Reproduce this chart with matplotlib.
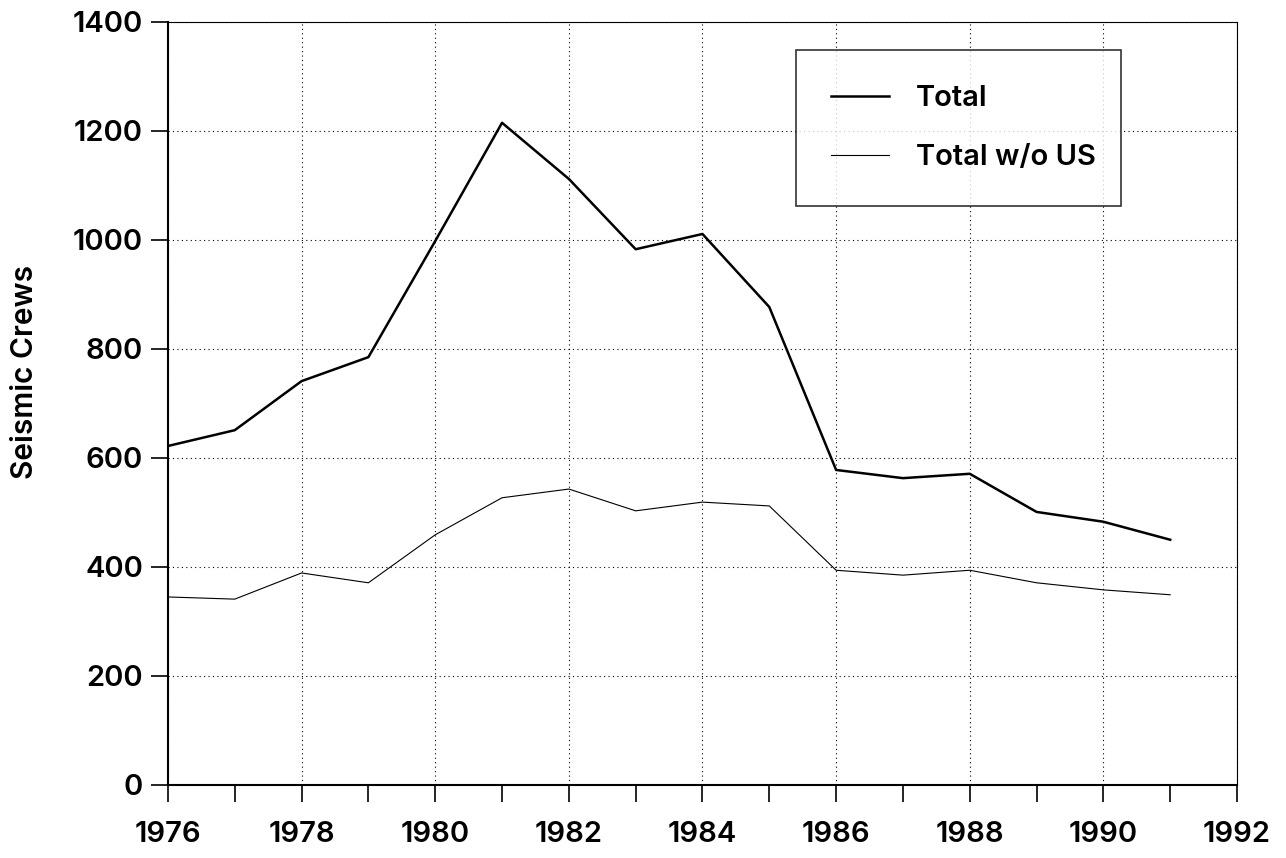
import matplotlib
matplotlib.use('Agg')
import matplotlib.pyplot as plt
from matplotlib.ticker import MultipleLocator

# DATA ###################################
years = [1976, 1977, 1978, 1979, 1980, 1981, 1982, 1983,
         1984, 1985, 1986, 1987, 1988, 1989, 1990, 1991]
total = [622, 651, 741, 785, 998, 1215, 1112, 983,
         1011, 877, 578, 563, 571, 501, 483, 450]
total_wo_us = [345, 341, 389, 371, 459, 527, 543, 503,
               519, 512, 394, 385, 394, 371, 358, 349]
x_ticks = [1976, 1978, 1980, 1982, 1984, 1986, 1988, 1990, 1992]
y_ticks = [0, 200, 400, 600, 800, 1000, 1200, 1400]

plt.rcParams['font.family'] = ['Inter', 'DejaVu Sans']
plt.rcParams['font.weight'] = 'semibold'

fig = plt.figure(figsize=(12.86, 8.58), dpi=100)
ax = fig.add_axes([0.1306, 0.0851, 0.8313, 0.8893])

ax.plot(years, total, color='black', linewidth=1.8, label='Total')
ax.plot(years, total_wo_us, color='black', linewidth=0.8, label='Total w/o US')

ax.set_xlim(1976, 1992)
ax.set_ylim(0, 1400)
ax.set_xticks(x_ticks)
ax.set_yticks(y_ticks)
ax.xaxis.set_minor_locator(MultipleLocator(1))
ax.tick_params(axis='both', which='major', direction='out', length=12, width=1.2,
               labelsize=21, pad=6)
ax.tick_params(axis='x', which='major', pad=14)
ax.tick_params(axis='x', which='minor', direction='out', length=12, width=1.2)
ax.grid(True, which='major', linestyle=(0, (1, 3)), color='black', linewidth=0.8)

for side in ['top', 'right']:
    ax.spines[side].set_linewidth(0.8)
for side in ['left', 'bottom']:
    ax.spines[side].set_linewidth(1.5)

ax.set_ylabel('Seismic Crews', fontsize=21.5, fontweight='semibold')
ax.yaxis.set_label_coords(-0.121, 0.541)

leg = ax.legend(loc='upper left', bbox_to_anchor=(0.5875, 0.771, 0.304, 0.192),
                mode='expand', fancybox=False, edgecolor='black', fontsize=21,
                handlelength=2.0, handletextpad=0.9, borderpad=1.2,
                labelspacing=1.1, borderaxespad=0)
leg.get_frame().set_linewidth(1.2)

fig.savefig('out.png', dpi=100)
